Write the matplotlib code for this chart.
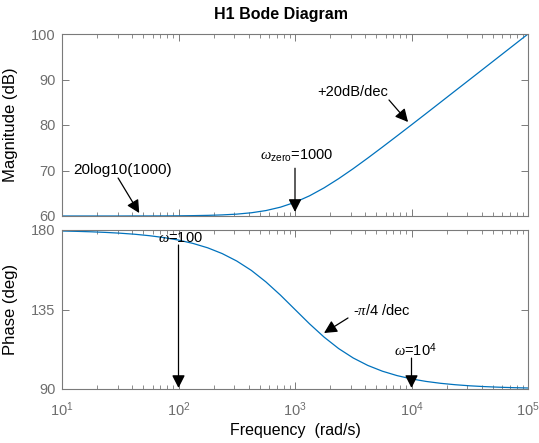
import matplotlib
matplotlib.use("Agg")
import matplotlib.pyplot as plt
from matplotlib.ticker import LogLocator, NullFormatter, FixedLocator

plt.rcParams['font.family'] = ['Liberation Sans', 'DejaVu Sans']
plt.rcParams['mathtext.fontset'] = 'custom'
plt.rcParams['mathtext.rm'] = 'Liberation Sans'
plt.rcParams['mathtext.it'] = 'Liberation Serif:italic'

# Frequenz (rad/s), 8 Punkte pro Dekade
freq = [10, 13.3, 17.8, 23.7, 31.6, 42.2, 56.2, 75.0,
        100, 133, 178, 237, 316, 422, 562, 750,
        1000, 1334, 1778, 2371, 3162, 4217, 5623, 7499,
        10000, 13340, 17780, 23710, 31620, 42170, 56230, 74990,
        100000]

# Betrag in dB
mag_db = [60.00, 60.00, 60.00, 60.00, 60.00, 60.01, 60.01, 60.02,
          60.04, 60.08, 60.14, 60.24, 60.41, 60.71, 61.19, 61.94,
          63.01, 64.44, 66.19, 68.21, 70.41, 72.74, 75.14, 77.58,
          80.04, 82.52, 85.01, 87.51, 90.00, 92.50, 95.00, 97.50,
          100.00]

# Phase in Grad
phase_deg = [179.43, 179.24, 178.98, 178.64, 178.19, 177.59, 176.78, 175.71,
             174.29, 172.41, 169.92, 166.66, 162.45, 157.13, 150.65, 143.14,
             135.00, 126.86, 119.36, 112.87, 107.55, 103.34, 100.08, 97.60,
             95.71, 94.29, 93.22, 92.42, 91.81, 91.36, 91.02, 90.76,
             90.57]

mag_ticks = [60, 70, 80, 90, 100]
phase_ticks = [90, 135, 180]

LINE = '#0072BD'
AX_GRAY = '#7a7a7a'
TICK_GRAY = '#6e6e6e'

fig = plt.figure(figsize=(5.39, 4.43), dpi=100)
ax1 = fig.add_axes([62/539, 1 - 216/443, 466/539, 182/443])
ax2 = fig.add_axes([62/539, 1 - 389/443, 466/539, 159/443])

ax1.semilogx(freq, mag_db, color=LINE, lw=0.9)
ax2.semilogx(freq, phase_deg, color=LINE, lw=0.9)

ax1.set_ylim(60, 100)
ax2.set_ylim(90, 180)
ax1.yaxis.set_major_locator(FixedLocator(mag_ticks))
ax2.yaxis.set_major_locator(FixedLocator(phase_ticks))

for ax in (ax1, ax2):
    ax.set_xlim(10, 1e5)
    ax.xaxis.set_major_locator(LogLocator(base=10))
    ax.xaxis.set_minor_locator(LogLocator(base=10, subs=range(2, 10)))
    ax.xaxis.set_minor_formatter(NullFormatter())
    ax.tick_params(which='both', direction='in', top=True, right=True,
                   colors=AX_GRAY, labelcolor=TICK_GRAY, labelsize=10.5)
    ax.tick_params(which='major', length=5, width=0.7)
    ax.tick_params(which='minor', length=3, width=0.6)
    ax.tick_params(axis='y', pad=4.5)
    ax.tick_params(axis='x', pad=8)
    for s in ax.spines.values():
        s.set_color(AX_GRAY)
        s.set_linewidth(0.8)

ax1.tick_params(labelbottom=False)
ax1.set_ylabel('Magnitude (dB)', fontsize=12)
ax2.set_ylabel('Phase (deg)', fontsize=12)
ax1.yaxis.set_label_coords(-0.095, 0.5)
ax2.yaxis.set_label_coords(-0.095, 0.5)
ax2.set_xlabel('Frequency  (rad/s)', fontsize=11.5, labelpad=3)

fig.text(281/539, 1 - 15/443, 'H1 Bode Diagram', ha='center', va='center',
         fontsize=11.5, fontweight='bold')

arrow = dict(arrowstyle='-|>,head_length=0.55,head_width=0.28',
             color='black', lw=0.9, mutation_scale=14, shrinkA=0, shrinkB=0)

# Betrag: Anmerkungen
ax1.annotate('', xy=(46, 60.66), xytext=(30.3, 68.35), arrowprops=arrow)
ax1.text(12.4, 70.1, '20log10(1000)', fontsize=11, va='center')
ax1.annotate('', xy=(1000, 60.9), xytext=(1000, 70.5), arrowprops=arrow)
ax1.text(501, 72.4, r'$\omega_{\rm zero}$=1000', fontsize=10.5, va='baseline')
ax1.annotate('', xy=(9340, 80.66), xytext=(6410, 85.5), arrowprops=arrow)
ax1.text(1545, 87.25, '+20dB/dec', fontsize=10.5, va='center')

# Phase: Anmerkungen
ax2.annotate('', xy=(100, 90.6), xytext=(100, 171.5), arrowprops=arrow)
ax2.text(104, 175.5, r'$\omega$=100', fontsize=10.5, ha='center', va='center')
ax2.annotate('', xy=(1775, 121.7), xytext=(2850, 130.2), arrowprops=arrow)
ax2.text(3150, 134.7, r'-$\pi$/4 /dec', fontsize=10.5, va='center')
ax2.annotate('', xy=(10000, 90.6), xytext=(10000, 107.5), arrowprops=arrow)
ax2.text(10700, 112, r'$\omega$=10$^4$', fontsize=10.5, ha='center', va='center')

fig.savefig('out.png', dpi=100)
